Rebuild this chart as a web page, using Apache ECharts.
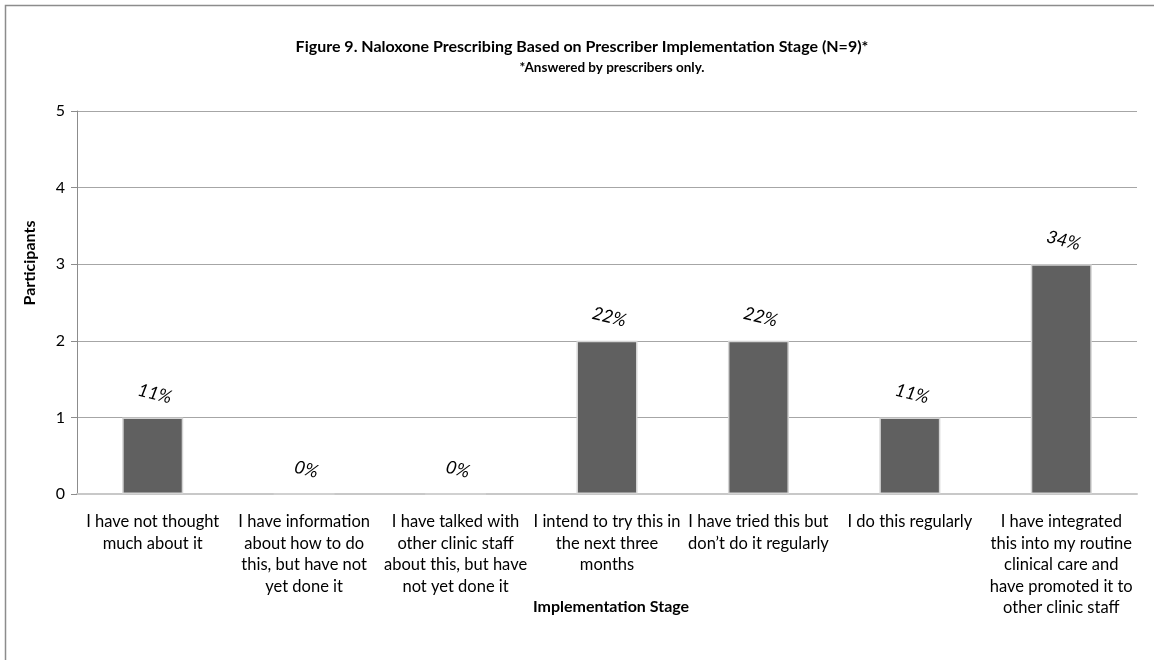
<!DOCTYPE html>
<html>
<head>
<meta charset="utf-8">
<script src="https://cdn.jsdelivr.net/npm/echarts@6/dist/echarts.min.js"></script>
<style>
  html, body { margin: 0; padding: 0; background: #fff; overflow: hidden; }
  #chart { width: 1154px; height: 660px; }
</style>
</head>
<body>
<div id="chart"></div>
<script>
// Implementation stages (x categories)
const stages = [
  'I have not thought\nmuch about it',
  'I have information\nabout how to do\nthis, but have not\nyet done it',
  'I have talked with\nother clinic staff\nabout this, but have\nnot yet done it',
  'I intend to try this in\nthe next three\nmonths',
  'I have tried this but\ndon\u2019t do it regularly',
  'I do this regularly',
  'I have integrated\nthis into my routine\nclinical care and\nhave promoted it to\nother clinic staff'
];
// Number of participants per stage
const participants = [1, 0, 0, 2, 2, 1, 3];
// Share of participants per stage
const shares = ['11%', '0%', '0%', '22%', '22%', '11%', '34%'];
// Y axis range
const yMin = 0, yMax = 5, yStep = 1;

const font = 'Lato, "Open Sans", sans-serif';
const chart = echarts.init(document.getElementById('chart'));

chart.setOption({
  backgroundColor: '#fff',
  animation: false,
  graphic: [
    {
      // chart frame (runs off the right and bottom edges)
      type: 'rect',
      shape: { x: 5.5, y: 5.5, width: 1200, height: 700 },
      style: { fill: 'none', stroke: '#8c8c8c', lineWidth: 1.5 },
      silent: true, z: -1
    },
    {
      type: 'text',
      style: {
        x: 582, y: 47, text: 'Figure 9. Naloxone Prescribing Based on Prescriber Implementation Stage (N=9)*',
        align: 'center', verticalAlign: 'middle',
        font: 'bold 16px ' + font, fill: '#000'
      }
    },
    {
      type: 'text',
      style: {
        x: 612, y: 68, text: '*Answered by prescribers only.',
        align: 'center', verticalAlign: 'middle',
        font: 'bold 13.5px ' + font, fill: '#000'
      }
    },
    {
      type: 'text',
      x: 30, y: 263, rotation: Math.PI / 2,
      style: {
        x: 0, y: 0, text: 'Participants',
        align: 'center', verticalAlign: 'middle',
        font: 'bold 16px ' + font, fill: '#000'
      }
    },
    {
      type: 'text',
      style: {
        x: 611, y: 607, text: 'Implementation Stage',
        align: 'center', verticalAlign: 'middle',
        font: 'bold 16px ' + font, fill: '#000'
      }
    }
  ],
  grid: { left: 77, right: 17, top: 111, bottom: 166, containLabel: false },
  xAxis: {
    type: 'category',
    data: stages,
    axisLine: { lineStyle: { color: '#c8c8c8', width: 2 } },
    axisTick: { show: false },
    axisLabel: {
      interval: 0, margin: 17,
      fontFamily: font, fontSize: 16.5, color: '#000', lineHeight: 21.5
    }
  },
  yAxis: {
    type: 'value',
    min: yMin, max: yMax, interval: yStep,
    axisLine: { show: true, lineStyle: { color: '#8c8c8c' } },
    axisTick: { show: true, length: 6, lineStyle: { color: '#8c8c8c' } },
    axisLabel: { margin: 12, fontFamily: font, fontSize: 16, color: '#000' },
    splitLine: { lineStyle: { color: '#a6a6a6' } }
  },
  series: [{
    type: 'bar',
    data: participants,
    barWidth: 61,
    itemStyle: {
      color: '#606060',
      borderColor: '#d4d4d4',
      borderWidth: 1.5
    },
    label: {
      show: true,
      position: 'top',
      distance: 15,
      rotate: -14,
      formatter: p => shares[p.dataIndex],
      fontFamily: font, fontSize: 18, fontStyle: 'italic', color: '#000'
    }
  }]
});
</script>
</body>
</html>
